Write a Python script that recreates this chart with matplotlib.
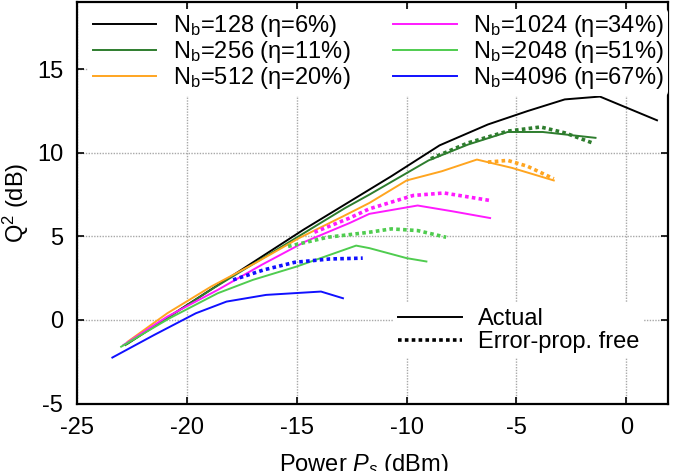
import matplotlib
matplotlib.use("Agg")
import matplotlib.pyplot as plt
from matplotlib.lines import Line2D

plt.rcParams["font.family"] = ["Liberation Sans", "DejaVu Sans"]
plt.rcParams["mathtext.fontset"] = "custom"
plt.rcParams["mathtext.rm"] = "Liberation Sans"
plt.rcParams["mathtext.it"] = "Liberation Sans:italic"
plt.rcParams["axes.unicode_minus"] = False
plt.rcParams["font.size"] = 17

# ---- data (power in dBm, Q^2 in dB) ----
labels = ["N$_\\mathrm{b}$=128 (η=6%)", "N$_\\mathrm{b}$=256 (η=11%)",
          "N$_\\mathrm{b}$=512 (η=20%)", "N$_\\mathrm{b}$=1024 (η=34%)",
          "N$_\\mathrm{b}$=2048 (η=51%)", "N$_\\mathrm{b}$=4096 (η=67%)"]
colors = ["black", "#2e7d2e", "#ffa520", "#ff1aff", "#4fcc4f", "#1010ff"]

x128 = [-22.7, -20.7, -18.7, -16.7, -14.7, -12.7, -10.7, -8.5, -6.3, -4.5, -2.8, -1.2, 1.4]
y128 = [-1.4, 0.3, 2.0, 3.7, 5.4, 7.0, 8.6, 10.45, 11.7, 12.5, 13.2, 13.37, 11.95]

x256 = [-22.8, -20.8, -18.8, -16.8, -14.8, -12.8, -11.7, -9.0, -7.2, -5.4, -3.8, -1.4]
y256 = [-1.5, 0.2, 1.9, 3.5, 5.1, 6.7, 7.5, 9.55, 10.5, 11.25, 11.25, 10.9]
x256f = [-8.9, -7.2, -5.4, -3.9, -2.8, -1.55]
y256f = [9.65, 10.6, 11.3, 11.55, 11.2, 10.6]

x512 = [-22.7, -20.9, -18.9, -16.9, -14.9, -12.9, -11.7, -10.0, -8.4, -6.8, -5.2, -3.3]
y512 = [-1.3, 0.4, 2.0, 3.4, 4.9, 6.2, 7.0, 8.35, 8.9, 9.6, 9.1, 8.35]
x512f = [-6.3, -5.4, -4.5, -3.3]
y512f = [9.45, 9.55, 9.2, 8.45]

x1024 = [-22.9, -20.9, -18.6, -16.6, -14.6, -12.6, -11.7, -9.5, -7.9, -6.2]
y1024 = [-1.5, 0.2, 1.8, 3.3, 4.7, 5.8, 6.35, 6.85, 6.5, 6.1]
x1024f = [-14.2, -12.6, -11.7, -9.7, -8.3, -6.2]
y1024f = [5.25, 6.1, 6.65, 7.45, 7.6, 7.15]

x2048 = [-23.0, -20.8, -18.6, -17.0, -15.0, -12.3, -11.7, -10.0, -9.1]
y2048 = [-1.6, 0.1, 1.6, 2.4, 3.2, 4.45, 4.3, 3.7, 3.5]
x2048f = [-15.4, -13.6, -11.7, -10.7, -9.5, -8.2]
y2048f = [4.4, 4.95, 5.25, 5.45, 5.35, 4.95]

x4096 = [-23.4, -21.5, -19.6, -18.2, -16.4, -13.9, -12.9]
y4096 = [-2.25, -0.9, 0.4, 1.1, 1.5, 1.7, 1.3]
x4096f = [-17.9, -16.5, -15.1, -13.5, -12.0]
y4096f = [2.4, 3.0, 3.45, 3.65, 3.7]

actual = [(x128, y128), (x256, y256), (x512, y512),
          (x1024, y1024), (x2048, y2048), (x4096, y4096)]
free = [None, (x256f, y256f), (x512f, y512f),
        (x1024f, y1024f), (x2048f, y2048f), (x4096f, y4096f)]

DOT = (0, (1, 0.9))

fig = plt.figure(figsize=(6.75, 4.71), dpi=100)
ax = fig.add_axes([0.1144, 0.1433, 0.8752, 0.8514])

for (xs, ys), c in zip(actual, colors):
    ax.plot(xs, ys, color=c, lw=1.4)
for f, c in zip(free, colors):
    if f is not None:
        ax.plot(f[0], f[1], color=c, lw=2.6, ls=DOT)

ax.set_xlim(-25, 1.9)
ax.set_ylim(-5, 19)
ax.set_xticks([-25, -20, -15, -10, -5, 0])
ax.set_yticks([-5, 0, 5, 10, 15])
ax.tick_params(direction="in", top=True, right=True, length=5, width=1.2)
ax.tick_params(axis="x", pad=10)
ax.tick_params(axis="y", pad=10)
ax.grid(True, color="#a8a8a8", ls=(0, (1, 1)), lw=1.0)
for s in ax.spines.values():
    s.set_linewidth(1.6)

ax.set_xlabel("Power $P_s$ (dBm)")
ax.xaxis.set_label_coords(0.485, -0.12)
ax.set_ylabel("Q$^2$ (dB)")
ax.yaxis.set_label_coords(-0.078, 0.5)

handles = [Line2D([], [], color=c, lw=1.4) for c in colors]
leg1 = ax.legend(handles, labels, ncol=2, loc="upper left",
                 bbox_to_anchor=(0.018, 0.985), frameon=True, framealpha=1,
                 edgecolor="none", handlelength=2.7, handletextpad=0.7,
                 columnspacing=1.8, labelspacing=0.0, borderaxespad=0.0,
                 borderpad=0.2)
ax.add_artist(leg1)

style_handles = [Line2D([], [], color="black", lw=1.4),
                 Line2D([], [], color="black", lw=2.6, ls=DOT)]
ax.legend(style_handles, ["Actual", "Error-prop. free"], loc="upper left",
          bbox_to_anchor=(0.535, 0.25), frameon=True, framealpha=1,
          edgecolor="none", handlelength=2.7, handletextpad=0.7,
          labelspacing=0.05, borderaxespad=0.0, borderpad=0.2)

fig.savefig("out.png", dpi=100)
